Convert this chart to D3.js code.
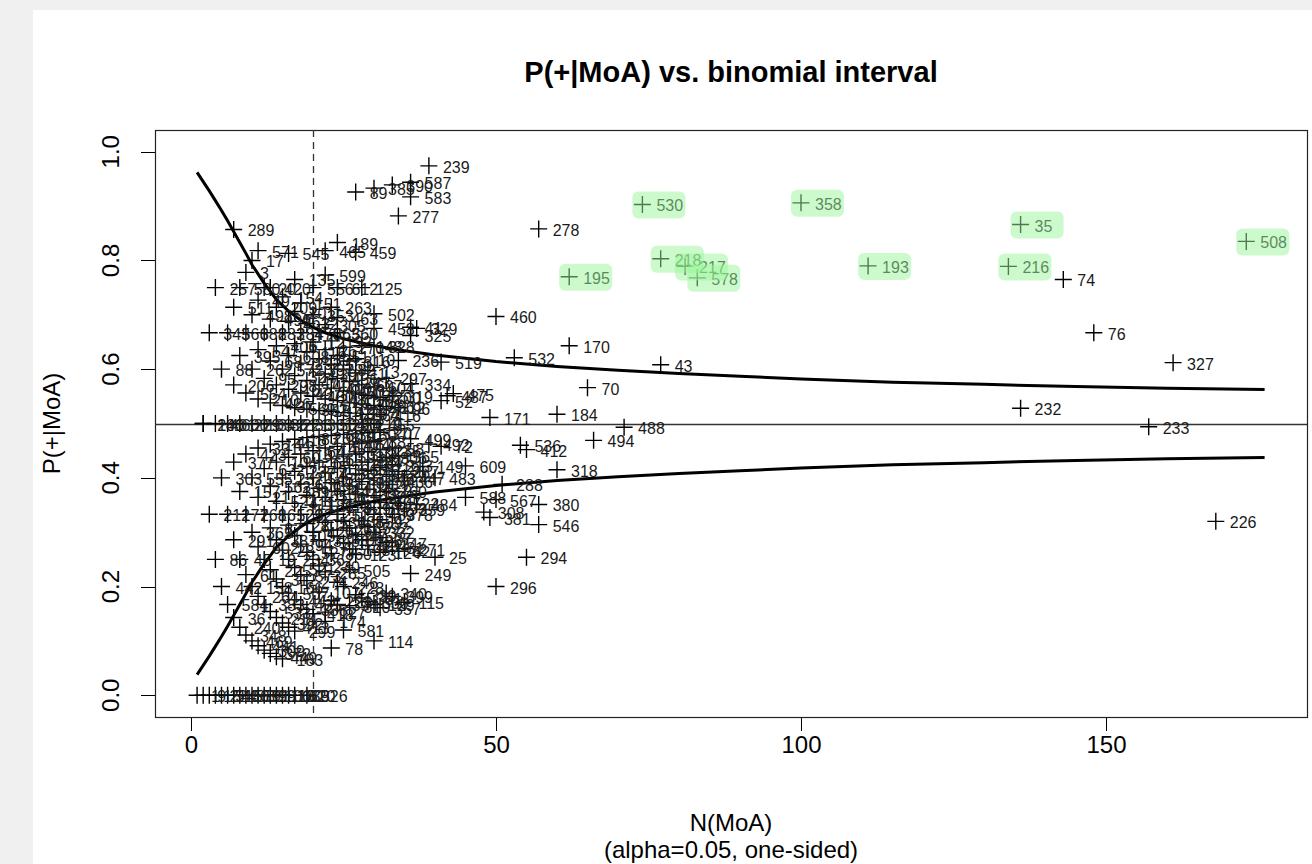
<!DOCTYPE html>
<html><head><meta charset="utf-8">
<script src="https://cdn.jsdelivr.net/npm/d3@7"></script>
<style>
html,body{margin:0;padding:0;background:#f0f0f0;}
svg{display:block;}
text{font-family:"Liberation Sans",Arial,sans-serif;}
</style></head><body>
<svg id="chart" width="1312" height="864"></svg>
<script>
// ---------- data ----------
const chartTitle = "P(+|MoA) vs. binomial interval";
const xLabel1 = "N(MoA)";
const xLabel2 = "(alpha=0.05, one-sided)";
const yLabel = "P(+|MoA)";
const xTicks = [0, 50, 100, 150];
const yTicks = [0, 0.2, 0.4, 0.6, 0.8, 1.0];
const yTickLabels = ["0.0", "0.2", "0.4", "0.6", "0.8", "1.0"];
const cutoffN = 20;
const refP = 0.5;

const curveN = [1,2,3,4,5,6,7,8,9,10,12,14,16,18,20,22,25,30,35,40,45,50,60,70,80,90,100,115,130,145,160,176];
const upperP = [0.962,0.945,0.928,0.910,0.892,0.873,0.853,0.833,0.813,0.792,0.758,0.728,0.707,0.690,0.677,0.667,0.656,0.643,0.634,0.626,0.620,0.614,0.605,0.598,0.592,0.587,0.582,0.576,0.572,0.568,0.565,0.5625];
const lowerP = [0.038,0.055,0.072,0.090,0.108,0.127,0.147,0.167,0.187,0.208,0.242,0.272,0.293,0.310,0.323,0.333,0.344,0.357,0.366,0.374,0.380,0.386,0.395,0.402,0.408,0.413,0.418,0.424,0.428,0.432,0.435,0.4375];

const highlightIds = [530,358,35,508,218,195,217,578,193,216];

// [id, N, P]
const outerPoints = [
 [239,39,0.974],[89,27,0.926],[385,30,0.933],[390,33,0.939],[587,36,0.944],[583,36,0.917],[277,34,0.882],
 [278,57,0.858],[530,74,0.903],[358,100,0.906],[35,136,0.866],[508,173,0.835],[218,77,0.803],[217,81,0.789],
 [578,83,0.768],[195,62,0.770],[193,111,0.790],[216,134,0.789],[74,143,0.765],[76,148,0.667],[327,161,0.612],
 [232,136,0.528],[233,157,0.494],[226,168,0.320],
 [460,50,0.697],[170,62,0.643],[532,53,0.621],[43,77,0.608],[70,65,0.566],[171,49,0.511],[184,60,0.517],
 [488,71,0.493],[494,66,0.469],[536,54,0.460],[412,55,0.452],[318,60,0.415],[288,51,0.388],[380,57,0.351],
 [546,57,0.314],[381,49,0.327],[567,50,0.360],[308,48,0.337],[294,55,0.254],[296,50,0.200],
 [519,41,0.613],[236,34,0.616],[110,27,0.619],[328,30,0.643],[502,30,0.702],[463,24,0.695],[263,23,0.714],
 [458,30,0.675],[41,36,0.677],[329,37,0.675],[325,36,0.662],[13,29,0.597],[297,32,0.583],[334,36,0.573],
 [319,33,0.551],[487,42,0.551],[52,41,0.542],[475,43,0.555],[416,31,0.516],[207,31,0.484],[499,36,0.472],
 [492,39,0.462],[72,41,0.458],[235,31,0.452],[149,38,0.421],[609,45,0.422],[483,40,0.400],[484,37,0.351],
 [588,45,0.364],[27,31,0.290],[62,34,0.265],[271,35,0.270],[124,31,0.263],[25,40,0.254],[249,36,0.224],
 [115,35,0.171],[351,28,0.179],[310,26,0.165],[127,22,0.153],[413,16,0.125],[581,25,0.120],[114,30,0.100],
 [78,23,0.087],[183,15,0.067],
 [289,7,0.857],[571,11,0.818],[545,16,0.813],[189,24,0.833],[465,22,0.818],[459,27,0.815],[3,9,0.778],
 [599,22,0.773],[612,24,0.750],[125,28,0.750],[135,17,0.765],[257,4,0.750],[420,13,0.750],[580,8,0.750]
];

const zeroRow = [
 [1,1,0],[9,2,0],[15,3,0],[22,4,0],[31,5,0],[40,6,0],[48,7,0],[55,8,0],[63,9,0],[80,10,0],[91,11,0],
 [99,12,0],[106,13,0],[118,14,0],[130,15,0],[139,16,0],[620,17,0],[326,19,0]
];

const clusterPoints = [
 [140,2,0.5],[201,2,0.5],
 [212,3,0.333],[343,3,0.667],
 [86,4,0.25],[401,4,0.5],
 [442,5,0.2],[303,5,0.4],[88,5,0.6],
 [584,6,0.167],[177,6,0.333],[600,6,0.5],[566,6,0.667],
 [36,7,0.143],[291,7,0.286],[377,7,0.429],[206,7,0.571],[511,7,0.714],
 [240,8,0.125],[45,8,0.25],[157,8,0.375],[229,8,0.5],[395,8,0.625],
 [348,9,0.111],[61,9,0.222],[268,9,0.333],[423,9,0.444],[554,9,0.556],[388,9,0.667],
 [469,10,0.1],[158,10,0.2],[363,10,0.3],[555,10,0.4],[103,10,0.5],[262,10,0.6],[498,10,0.7],[17,10,0.8],
 [441,11,0.091],[264,11,0.182],[602,11,0.273],[21,11,0.364],[331,11,0.455],[210,11,0.545],[547,11,0.636],[49,11,0.727],
 [309,12,0.083],[383,12,0.167],[19,12,0.25],[161,12,0.333],[622,12,0.417],[342,12,0.5],[95,12,0.583],[283,12,0.667],[20,12,0.75],
 [372,13,0.077],[533,13,0.154],[225,13,0.231],[87,13,0.308],[562,13,0.385],[144,13,0.462],[426,13,0.538],[68,13,0.615],[496,13,0.692],
 [449,14,0.071],[214,14,0.143],[312,14,0.214],[387,14,0.286],[523,14,0.357],[104,14,0.429],[361,14,0.5],[298,14,0.571],[406,14,0.643],[209,14,0.714],
 [392,15,0.133],[166,15,0.2],[28,15,0.267],[529,15,0.333],[252,15,0.4],[451,15,0.467],[37,15,0.533],[572,15,0.6],[284,15,0.667],[154,15,0.733],
 [507,16,0.188],[234,16,0.25],[128,16,0.313],[389,16,0.375],[60,16,0.438],[221,16,0.5],[162,16,0.563],[608,16,0.625],[261,16,0.688],
 [299,17,0.118],[443,17,0.176],[521,17,0.235],[105,17,0.294],[411,17,0.353],[237,17,0.412],[18,17,0.471],[569,17,0.529],[324,17,0.588],[5,17,0.647],[201,17,0.706],
 [435,18,0.167],[573,18,0.222],[94,18,0.278],[321,18,0.333],[606,18,0.389],[187,18,0.444],[33,18,0.5],[437,18,0.556],[292,18,0.611],[470,18,0.667],[151,18,0.722],
 [338,19,0.158],[274,19,0.211],[527,19,0.263],[202,19,0.316],[165,19,0.368],[515,19,0.421],[83,19,0.474],[352,19,0.526],[471,19,0.579],[116,19,0.632],[32,19,0.684],
 [418,20,0.15],[362,20,0.25],[429,20,0.3],[186,20,0.35],[548,20,0.4],[64,20,0.45],[301,20,0.5],[480,20,0.55],[397,20,0.6],[12,20,0.65],[353,20,0.7],[556,20,0.75],
 [107,21,0.19],[230,21,0.238],[345,21,0.286],[121,21,0.333],[594,21,0.381],[66,21,0.429],[258,21,0.476],[181,21,0.524],[408,21,0.571],[39,21,0.619],[563,21,0.667],
 [174,22,0.136],[285,22,0.227],[71,22,0.273],[539,22,0.318],[196,22,0.364],[453,22,0.409],[145,22,0.455],[504,22,0.5],[248,22,0.545],[391,22,0.591],[26,22,0.636],[305,22,0.682],
 [223,23,0.174],[360,23,0.261],[525,23,0.304],[113,23,0.348],[317,23,0.391],[65,23,0.435],[603,23,0.478],[142,23,0.522],[410,23,0.565],[550,23,0.609],[192,23,0.652],
 [394,24,0.167],[246,24,0.208],[344,24,0.292],[517,24,0.333],[44,24,0.375],[366,24,0.417],[579,24,0.458],[290,24,0.5],[101,24,0.542],[456,24,0.583],[51,24,0.625],[560,24,0.667],
 [228,25,0.2],[122,25,0.28],[438,25,0.32],[7,25,0.36],[253,25,0.4],[593,25,0.44],[341,25,0.48],[134,25,0.52],[450,25,0.56],[82,25,0.6],[270,25,0.64],
 [505,26,0.231],[198,26,0.269],[367,26,0.308],[90,26,0.346],[402,26,0.385],[163,26,0.423],[474,26,0.462],[34,26,0.5],[520,26,0.538],[243,26,0.577],[316,26,0.615],
 [339,27,0.185],[123,27,0.259],[47,27,0.296],[433,27,0.37],[279,27,0.407],[553,27,0.444],[150,27,0.481],[267,27,0.519],[414,27,0.556],[11,27,0.593],
 [386,28,0.286],[559,28,0.321],[126,28,0.357],[311,28,0.393],[464,28,0.429],[57,28,0.464],[219,28,0.5],[398,28,0.536],[607,28,0.571],[148,28,0.643],
 [330,29,0.172],[231,29,0.276],[592,29,0.31],[98,29,0.345],[452,29,0.379],[16,29,0.414],[313,29,0.448],[537,29,0.483],[84,29,0.517],[355,29,0.552],
 [129,30,0.167],[332,30,0.3],[489,30,0.333],[222,30,0.367],[146,30,0.4],[575,30,0.433],[38,30,0.467],[455,30,0.5],[266,30,0.533],[604,30,0.567],
 [357,31,0.161],[42,31,0.323],[497,31,0.355],[281,31,0.387],[119,31,0.419],[200,31,0.548],
 [340,32,0.188],[247,32,0.281],[493,32,0.344],[160,32,0.375],[589,32,0.406],[306,32,0.438],[112,32,0.531],
 [399,33,0.182],[81,33,0.273],[378,33,0.333],[436,33,0.394],[213,33,0.424],[58,33,0.455],
 [522,34,0.353],[287,34,0.412],[565,34,0.441],[96,34,0.529],
 [259,35,0.343],[447,35,0.4]
];

// ---------- drawing ----------
const svg = d3.select("#chart");
svg.append("rect").attr("x",33).attr("y",10).attr("width",1312-33).attr("height",864-10).attr("fill","#ffffff");

const L = 155, R = 1307, T = 130, B = 717;
const x = d3.scaleLinear().domain([-5.9, 182.95]).range([L, R]);
const y = d3.scaleLinear().domain([-0.04, 1.04]).range([B, T]);

// title
svg.append("text").attr("x",(L+R)/2).attr("y",82).attr("text-anchor","middle")
  .attr("font-size",29).attr("font-weight","bold").attr("fill","#000").text(chartTitle);

// x axis
const xAxis = d3.axisBottom(x).tickValues(xTicks).tickSize(14).tickPadding(5).tickFormat(d3.format("d"));
const gx = svg.append("g").attr("transform",`translate(0,${B})`).call(xAxis);
gx.select(".domain").remove();
gx.selectAll(".tick line").attr("stroke","#000").attr("stroke-width",1);
gx.selectAll(".tick text").attr("font-size",24).attr("fill","#000").attr("font-family","Liberation Sans, Arial, sans-serif");
svg.append("line").attr("x1",x(xTicks[0])).attr("x2",x(xTicks[xTicks.length-1])).attr("y1",B+0.5).attr("y2",B+0.5).attr("stroke","#000");

// y axis
const gy = svg.append("g");
gy.selectAll("line.tk").data(yTicks).join("line").attr("class","tk")
  .attr("x1",L-14).attr("x2",L).attr("y1",d=>Math.round(y(d))+0.5).attr("y2",d=>Math.round(y(d))+0.5).attr("stroke","#000");
gy.selectAll("text").data(yTicks).join("text")
  .attr("transform",(d)=>`translate(119,${y(d)}) rotate(-90)`)
  .attr("text-anchor","middle").attr("font-size",24).attr("fill","#000")
  .text((d,i)=>yTickLabels[i]);
svg.append("line").attr("x1",L+0.5).attr("x2",L+0.5).attr("y1",y(yTicks[0])).attr("y2",y(yTicks[yTicks.length-1])).attr("stroke","#000");

// axis titles
svg.append("text").attr("x",(L+R)/2).attr("y",831).attr("text-anchor","middle").attr("font-size",24).attr("fill","#000").text(xLabel1);
svg.append("text").attr("x",(L+R)/2).attr("y",858).attr("text-anchor","middle").attr("font-size",24).attr("fill","#000").text(xLabel2);
svg.append("text").attr("transform",`translate(60,${(T+B)/2}) rotate(-90)`).attr("text-anchor","middle").attr("font-size",24).attr("fill","#000").text(yLabel);

// plot frame
svg.append("rect").attr("x",L+0.5).attr("y",T+0.5).attr("width",R-L).attr("height",B-T)
  .attr("fill","none").attr("stroke","#222").attr("stroke-width",1.2);

// reference lines
svg.append("line").attr("x1",L).attr("x2",R).attr("y1",Math.round(y(refP))+0.5).attr("y2",Math.round(y(refP))+0.5)
  .attr("stroke","#333").attr("stroke-width",1.3);
svg.append("line").attr("x1",Math.round(x(cutoffN))+0.5).attr("x2",Math.round(x(cutoffN))+0.5).attr("y1",T).attr("y2",B)
  .attr("stroke","#333").attr("stroke-width",1.3).attr("stroke-dasharray","7,5");

// interval curves
const line = d3.line().x(d=>x(d[0])).y(d=>y(d[1]));
svg.append("path").datum(curveN.map((n,i)=>[n,upperP[i]])).attr("d",line)
  .attr("fill","none").attr("stroke","#000").attr("stroke-width",3);
svg.append("path").datum(curveN.map((n,i)=>[n,lowerP[i]])).attr("d",line)
  .attr("fill","none").attr("stroke","#000").attr("stroke-width",3);

// points
const allPoints = zeroRow.concat(clusterPoints, outerPoints);
const gp = svg.append("g");
gp.selectAll("path").data(allPoints).join("path")
  .attr("transform",d=>`translate(${x(d[1])},${y(d[2])})`)
  .attr("d","M-8.5,0H8.5M0,-8.5V8.5").attr("stroke","#000").attr("stroke-width",1.4).attr("fill","none");
gp.selectAll("text").data(allPoints).join("text")
  .attr("x",d=>x(d[1])+14).attr("y",d=>y(d[2])+7)
  .attr("font-size",16).attr("fill","#1a1a1a").text(d=>d[0]);

// highlight overlays
const hl = outerPoints.filter(d=>highlightIds.includes(d[0]));
svg.append("g").selectAll("rect").data(hl).join("rect")
  .attr("x",d=>x(d[1])-10).attr("y",d=>y(d[2])-13).attr("width",53).attr("height",27)
  .attr("rx",6).attr("ry",6).attr("fill","rgb(153,245,153)").attr("fill-opacity",0.5);
</script>
</body></html>
